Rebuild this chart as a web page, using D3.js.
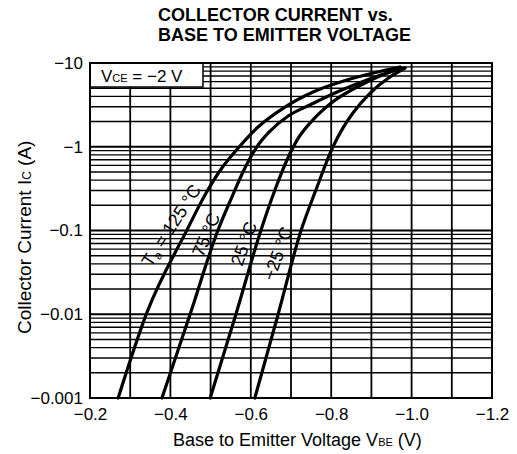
<!DOCTYPE html>
<html>
<head>
<meta charset="utf-8">
<script src="https://cdn.jsdelivr.net/npm/d3@7"></script>
<style>
  body { margin: 0; background: #fff; }
  svg { display: block; font-family: "Liberation Sans", Arial, Helvetica, sans-serif; }
</style>
</head>
<body>
<div class="chart"></div>
<script>
// axis ticks
const xTickVals = [-0.2, -0.4, -0.6, -0.8, -1.0, -1.2];
const xTickLabels = ["\u22120.2", "\u22120.4", "\u22120.6", "\u22120.8", "\u22121.0", "\u22121.2"];
const yTickVals = [-10, -1, -0.1, -0.01, -0.001];
const yTickLabels = ["\u221210", "\u22121", "\u22120.1", "\u22120.01", "\u22120.001"];

// curves (VBE in V, IC in A)
const t125V = [-0.270, -0.342, -0.441, -0.486, -0.528, -0.573, -0.618, -0.685, -0.755, -0.839, -0.916, -0.971];
const t125I = [-0.001, -0.0106, -0.101, -0.265, -0.557, -1.02, -1.72, -2.98, -4.51, -6.27, -7.81, -8.96];
const t75V = [-0.379, -0.449, -0.518, -0.553, -0.583, -0.613, -0.648, -0.693, -0.747, -0.809, -0.889, -0.976];
const t75I = [-0.001, -0.010, -0.10, -0.251, -0.528, -0.966, -1.54, -2.33, -3.15, -4.38, -6.27, -8.71];
const t25V = [-0.499, -0.563, -0.625, -0.660, -0.690, -0.715, -0.752, -0.797, -0.879, -0.971];
const t25I = [-0.001, -0.010, -0.10, -0.305, -0.695, -1.20, -2.03, -3.24, -5.62, -8.71];
const tm25V = [-0.610, -0.668, -0.725, -0.762, -0.804, -0.829, -0.854, -0.897, -0.946, -0.984];
const tm25I = [-0.001, -0.010, -0.10, -0.305, -0.99, -1.67, -2.53, -4.38, -6.8, -8.71];

const W = 517, H = 454;
const plot = { left: 90, right: 492, top: 63, bottom: 398 };

const svg = d3.select("div.chart")
    .append("svg")
    .attr("width", W)
    .attr("height", H);

svg.append("rect").attr("width", W).attr("height", H).attr("fill", "#fff");

const x = d3.scaleLinear().domain([-0.2, -1.2]).range([plot.left, plot.right]);
const y = d3.scaleLog().domain([-0.001, -10]).range([plot.bottom, plot.top]);

// vertical grid, every 0.1 V
const g = svg.append("g");
g.selectAll("line.v")
    .data(d3.range(3, 12).map(k => -k / 10))
    .enter().append("line")
    .attr("x1", d => x(d)).attr("x2", d => x(d))
    .attr("y1", plot.top).attr("y2", plot.bottom)
    .attr("stroke", "#000").attr("stroke-width", 1.8);

// horizontal log grid
const hGrid = [];
[-0.001, -0.01, -0.1, -1].forEach(dec => {
    for (let m = 1; m <= 9; m++) hGrid.push(dec * m);
});
g.selectAll("line.h")
    .data(hGrid)
    .enter().append("line")
    .attr("x1", plot.left).attr("x2", plot.right)
    .attr("y1", d => y(d)).attr("y2", d => y(d))
    .attr("stroke", "#000")
    .attr("stroke-width", d => Math.abs(Math.log10(-d) % 1) < 1e-6 ? 2 : 1.4);

// condition box
svg.append("rect")
    .attr("x", plot.left).attr("y", plot.top)
    .attr("width", 113).attr("height", 24)
    .attr("fill", "#fff").attr("stroke", "#000").attr("stroke-width", 1.5);
const vce = svg.append("text")
    .attr("x", 101).attr("y", 82)
    .attr("font-size", 17);
vce.append("tspan").text("V");
vce.append("tspan").attr("font-size", 11).text("CE");
vce.append("tspan").text(" = \u22122 V");

// frame
svg.append("rect")
    .attr("x", plot.left).attr("y", plot.top)
    .attr("width", plot.right - plot.left).attr("height", plot.bottom - plot.top)
    .attr("fill", "none").attr("stroke", "#000").attr("stroke-width", 2);

// curves
const line = d3.line()
    .x(d => x(d[0]))
    .y(d => y(d[1]))
    .curve(d3.curveMonotoneX);

const curves = [
    [t125V, t125I],
    [t75V, t75I],
    [t25V, t25I],
    [tm25V, tm25I]
];
svg.selectAll("path.curve")
    .data(curves)
    .enter().append("path")
    .attr("d", c => line(d3.zip(c[0], c[1])))
    .attr("fill", "none")
    .attr("stroke", "#000")
    .attr("stroke-width", 3.2)
    .attr("stroke-linecap", "round");

// curve labels
function curveLabel(px, py, angle, parts) {
    const t = svg.append("text")
        .attr("transform", `translate(${px},${py}) rotate(${angle})`)
        .attr("font-size", 18);
    parts.forEach(p => {
        const s = t.append("tspan").text(p[0]);
        if (p[1]) s.attr("font-size", 12).attr("dy", 3);
        if (p[2]) s.attr("dy", -3);
    });
}
curveLabel(151, 268, -57, [["T"], ["a", true], [" = 125 \u00b0C", false, true]]);
curveLabel(203, 258, -67, [["75 \u00b0C"]]);
curveLabel(242, 267, -70, [["25 \u00b0C"]]);
curveLabel(274, 282, -70, [["\u221225 \u00b0C"]]);

// axes
const xAxis = svg.append("g")
    .attr("transform", `translate(0,${plot.bottom})`)
    .call(d3.axisBottom(x).tickValues(xTickVals).tickSize(0).tickPadding(10)
        .tickFormat((d, i) => xTickLabels[i]));
xAxis.select(".domain").remove();
xAxis.selectAll("text").attr("font-size", 17).attr("fill", "#000")
    .attr("font-family", "Liberation Sans, Arial, sans-serif");

const yAxis = svg.append("g")
    .attr("transform", `translate(${plot.left},0)`)
    .call(d3.axisLeft(y).tickValues(yTickVals).tickSize(0).tickPadding(7)
        .tickFormat((d, i) => yTickLabels[i]));
yAxis.select(".domain").remove();
yAxis.selectAll("text").attr("font-size", 17).attr("fill", "#000")
    .attr("font-family", "Liberation Sans, Arial, sans-serif");

// titles
svg.append("text").attr("x", 158).attr("y", 20.5)
    .attr("font-size", 18).attr("font-weight", "bold")
    .text("COLLECTOR CURRENT vs.");
svg.append("text").attr("x", 158).attr("y", 41)
    .attr("font-size", 18).attr("font-weight", "bold")
    .text("BASE TO EMITTER VOLTAGE");

const xt = svg.append("text").attr("x", 173).attr("y", 446).attr("font-size", 18);
xt.append("tspan").text("Base to Emitter Voltage  V");
xt.append("tspan").attr("font-size", 11).text("BE");
xt.append("tspan").text(" (V)");

const yt = svg.append("text")
    .attr("transform", "translate(31,334) rotate(-90)")
    .attr("font-size", 19);
yt.append("tspan").text("Collector Current  I");
yt.append("tspan").attr("font-size", 12).text("C");
yt.append("tspan").text(" (A)");
</script>
</body>
</html>
